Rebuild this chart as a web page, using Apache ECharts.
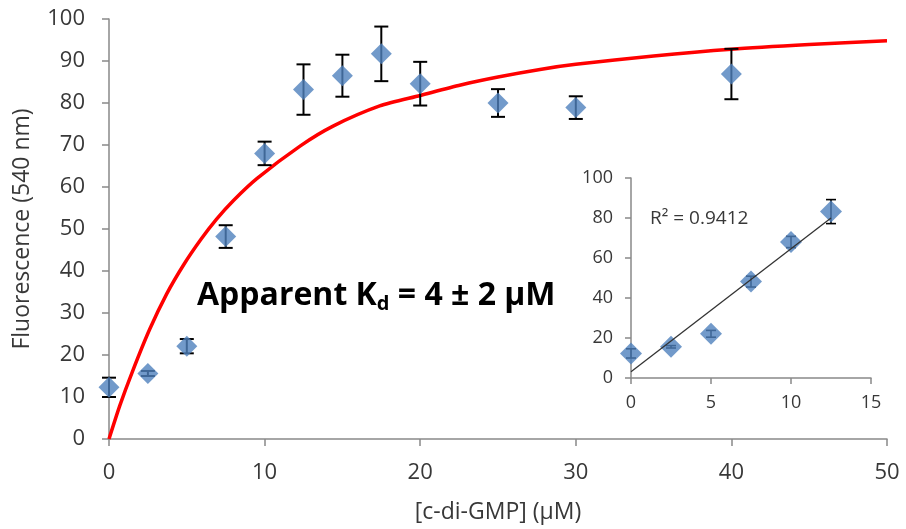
<!DOCTYPE html>
<html>
<head>
<meta charset="utf-8">
<script src="https://cdn.jsdelivr.net/npm/echarts@6/dist/echarts.min.js"></script>
<style>
  html, body { margin: 0; padding: 0; background: #fff; }
  #chart { width: 906px; height: 529px; }
</style>
</head>
<body>
<div id="chart"></div>
<script>
// Binding titration: fluorescence vs [c-di-GMP]
const concentration = [0, 2.5, 5, 7.5, 10, 12.5, 15, 17.5, 20, 25, 30, 40];
const fluorescence  = [12.3, 15.6, 22.1, 48.2, 68.0, 83.2, 86.5, 91.7, 84.6, 80.0, 78.9, 86.9];
const errorSD       = [2.3, 0.6, 1.7, 2.7, 2.8, 6.0, 5.0, 6.5, 5.2, 3.3, 2.7, 6.0];

// Fitted binding curve (red)
const fitX = [0, 0.7, 1.5, 2.6, 3.7, 4.8, 5.9, 6.9, 8, 9.5, 12.3, 14.4, 17.4, 20, 22.6, 25, 27.7, 30, 35, 40, 45, 50];
const fitY = [0, 8, 16, 26, 34.5, 41.5, 47.5, 52.3, 56.8, 62, 69.8, 74.5, 79.3, 81.8, 84.3, 86.2, 88, 89.2, 91.2, 92.8, 93.9, 94.8];

// Inset: linear range (first six concentrations)
const insetCount = 6;
const insetR2Label = 'R² = 0.9412';

const mainXTicks = { min: 0, max: 50, interval: 10 };
const mainYTicks = { min: 0, max: 100, interval: 10 };
const insetXTicks = { min: 0, max: 15, interval: 5 };
const insetYTicks = { min: 0, max: 100, interval: 20 };

const FONT = '"Open Sans", "Noto Sans", sans-serif';
const LABEL_COLOR = '#383838';
const AXIS_COLOR = '#898989';
const MARKER_COLOR = '#4F81BD';

const points = concentration.map((x, i) => [x, fluorescence[i]]);
const bars = concentration.map((x, i) => [x, fluorescence[i] - errorSD[i], fluorescence[i] + errorSD[i]]);
const fitLine = fitX.map((x, i) => [x, fitY[i]]);
const insetPoints = points.slice(0, insetCount);
const insetBars = bars.slice(0, insetCount);

// least-squares trendline through the inset points
const n = insetPoints.length;
const mx = insetPoints.reduce((s, p) => s + p[0], 0) / n;
const my = insetPoints.reduce((s, p) => s + p[1], 0) / n;
let sxy = 0, sxx = 0;
insetPoints.forEach(p => { sxy += (p[0] - mx) * (p[1] - my); sxx += (p[0] - mx) ** 2; });
const slope = sxy / sxx;
const intercept = my - slope * mx;
const xFirst = insetPoints[0][0], xLast = insetPoints[n - 1][0];
const trend = [[xFirst, intercept + slope * xFirst], [xLast, intercept + slope * xLast]];

function errorBarRenderer(capHalf, width) {
  return function (params, api) {
    const x = api.value(0);
    const top = api.coord([x, api.value(2)]);
    const bot = api.coord([x, api.value(1)]);
    const st = { stroke: '#000', lineWidth: width };
    return {
      type: 'group',
      children: [
        { type: 'line', shape: { x1: top[0], y1: top[1], x2: bot[0], y2: bot[1] }, style: st },
        { type: 'line', shape: { x1: top[0] - capHalf, y1: top[1], x2: top[0] + capHalf, y2: top[1] }, style: st },
        { type: 'line', shape: { x1: bot[0] - capHalf, y1: bot[1], x2: bot[0] + capHalf, y2: bot[1] }, style: st }
      ]
    };
  };
}

function axisCommon(extra) {
  return Object.assign({
    type: 'value',
    splitLine: { show: false },
    axisLine: { show: true, lineStyle: { color: AXIS_COLOR, width: 1.5 } },
    axisTick: { show: true, inside: false, length: 7, lineStyle: { color: AXIS_COLOR, width: 1.5 } }
  }, extra);
}

const chart = echarts.init(document.getElementById('chart'), null, { renderer: 'canvas' });

chart.setOption({
  animation: false,
  backgroundColor: '#ffffff',
  grid: [
    { left: 109, right: 19, top: 19, bottom: 86 },
    { left: 631, right: 35, top: 178, bottom: 151 }
  ],
  xAxis: [
    axisCommon(Object.assign({}, mainXTicks, {
      gridIndex: 0,
      name: '[c-di-GMP] (μM)',
      nameLocation: 'middle',
      nameGap: 62,
      nameTextStyle: { fontFamily: FONT, fontSize: 23, color: LABEL_COLOR },
      axisLabel: { fontFamily: FONT, fontSize: 22, color: LABEL_COLOR, margin: 23 }
    })),
    axisCommon(Object.assign({}, insetXTicks, {
      gridIndex: 1,
      axisTick: { show: true, length: 6, lineStyle: { color: AXIS_COLOR, width: 1.5 } },
      axisLabel: { fontFamily: FONT, fontSize: 18, color: LABEL_COLOR, margin: 16 }
    }))
  ],
  yAxis: [
    axisCommon(Object.assign({}, mainYTicks, {
      gridIndex: 0,
      name: 'Fluorescence (540 nm)',
      nameLocation: 'middle',
      nameGap: 75,
      nameTextStyle: { fontFamily: FONT, fontSize: 23, color: LABEL_COLOR },
      axisLabel: { fontFamily: FONT, fontSize: 22, color: LABEL_COLOR, margin: 24 }
    })),
    axisCommon(Object.assign({}, insetYTicks, {
      gridIndex: 1,
      axisTick: { show: true, length: 6, lineStyle: { color: AXIS_COLOR, width: 1.5 } },
      axisLabel: { fontFamily: FONT, fontSize: 18, color: LABEL_COLOR, margin: 18 }
    }))
  ],
  series: [
    {
      name: 'fit',
      type: 'line',
      xAxisIndex: 0, yAxisIndex: 0,
      data: fitLine,
      smooth: 0.25,
      showSymbol: false,
      lineStyle: { color: '#FF0000', width: 3.5 },
      z: 2
    },
    {
      name: 'error',
      type: 'custom',
      xAxisIndex: 0, yAxisIndex: 0,
      data: bars,
      renderItem: errorBarRenderer(7, 2),
      z: 3
    },
    {
      name: 'data',
      type: 'scatter',
      xAxisIndex: 0, yAxisIndex: 0,
      data: points,
      symbol: 'diamond',
      symbolSize: [21, 21],
      itemStyle: { color: MARKER_COLOR },
      z: 4
    },
    {
      name: 'trend',
      type: 'line',
      xAxisIndex: 1, yAxisIndex: 1,
      data: trend,
      showSymbol: false,
      lineStyle: { color: '#333', width: 1.3 },
      z: 5
    },
    {
      name: 'inset error',
      type: 'custom',
      xAxisIndex: 1, yAxisIndex: 1,
      data: insetBars,
      renderItem: errorBarRenderer(5, 1.6),
      z: 3
    },
    {
      name: 'inset data',
      type: 'scatter',
      xAxisIndex: 1, yAxisIndex: 1,
      data: insetPoints,
      symbol: 'diamond',
      symbolSize: [22, 22],
      itemStyle: { color: MARKER_COLOR },
      z: 4
    }
  ],
  graphic: [
    {
      type: 'text',
      left: 197,
      top: 277,
      style: {
        text: '{m|Apparent K}{s|d}{m| = 4 ± 2 μM}',
        rich: {
          m: { fontFamily: FONT, fontSize: 32, fontWeight: 'bold', fill: '#000', lineHeight: 40 },
          s: { fontFamily: FONT, fontSize: 20, fontWeight: 'bold', fill: '#000', lineHeight: 40, padding: [17, 0, 0, 0] }
        }
      }
    },
    {
      type: 'text',
      left: 650,
      top: 209,
      style: { text: insetR2Label, fontFamily: FONT, fontSize: 19, fill: LABEL_COLOR }
    }
  ]
});
</script>
</body>
</html>
